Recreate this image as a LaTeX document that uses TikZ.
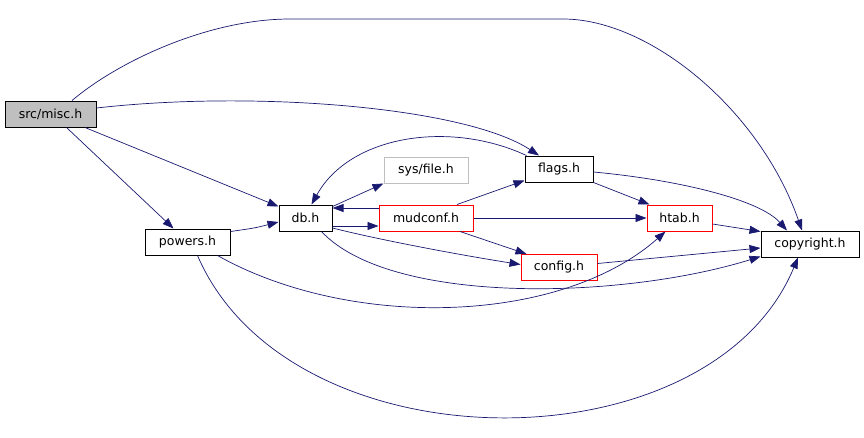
\documentclass[tikz,border=0pt]{standalone}
\usepackage{fontspec}
\setsansfont{DejaVu Sans}
\usepackage{xcolor}
\usepackage{tikz}
\usetikzlibrary{arrows.meta,positioning}
\definecolor{edgeblue}{HTML}{191970}
\definecolor{nodegray}{HTML}{BFBFBF}
\tikzset{hdr/.style={draw,line width=1pt,minimum height=26pt,inner sep=0pt,font=\sffamily\fontsize{12.5}{14}\selectfont},
  nodoc/.style={hdr,draw=red},
  sysinc/.style={hdr,draw=nodegray},
  inc/.style={draw=edgeblue,line width=0.7pt,-{Triangle[length=11pt,width=8pt]}}}
\begin{document}
\begin{tikzpicture}[x=1pt,y=-1pt]
\useasboundingbox (0,0) rectangle (864,437);
\node[hdr,fill=nodegray,minimum width=91pt] (misc) at (50.5,114) {src/misc.h};
\node[hdr,minimum width=53pt] (db) at (305.5,218) {db.h};
\node[hdr,minimum width=85pt] (powers) at (187.5,242) {powers.h};
\node[sysinc,minimum width=84pt] (sysfile) at (426,170) {sys/file.h};
\node[nodoc,minimum width=94pt] (mudconf) at (426,218) {mudconf.h};
\node[hdr,minimum width=68pt] (flags) at (559,169) {flags.h};
\node[nodoc,minimum width=65pt] (htab) at (679.5,218) {htab.h};
\node[nodoc,minimum width=76pt] (config) at (559,267.5) {config.h};
\node[hdr,minimum width=98pt] (copyright) at (810,244) {copyright.h};
% src/misc.h
\draw[inc] ([xshift=21.5pt]misc.north) .. controls (120,60) and (210,19) .. (290,19) -- (563,19)
  .. controls (650,19) and (760,110) .. ([xshift=-8pt]copyright.north);
\draw[inc] ([yshift=6pt]misc.east) .. controls (255,90) and (465,107) .. ([xshift=-20pt]flags.north);
\draw[inc] ([xshift=34.5pt]misc.south) -- ([yshift=-2pt]db.north west);
\draw[inc] ([xshift=16pt]misc.south) -- ([xshift=-14pt]powers.north);
% powers.h
\draw[inc] ([yshift=-3pt]powers.north east) .. controls (255,228) .. ([yshift=-4pt]db.west);
\draw[inc] ([xshift=30pt]powers.south) .. controls (350,330) and (560,325) .. ([xshift=-14pt]htab.south);
\draw[inc] ([xshift=10pt]powers.south) .. controls (290,470) and (710,470) .. ([xshift=-12pt]copyright.south);
% db.h
\draw[inc] ([yshift=-2pt]db.north east) -- (sysfile.south west);
\draw[inc] ([yshift=-8pt]db.east) -- ([yshift=-8pt]mudconf.west);
\draw[inc] ([yshift=-10pt]db.east) .. controls (380,240) and (460,255) .. ([yshift=3pt]config.west);
\draw[inc] ([xshift=16pt]db.south) .. controls (390,305) and (620,300) .. ([yshift=1pt]copyright.south west);
% mudconf.h
\draw[inc] ([yshift=10pt]mudconf.west) -- ([yshift=10pt]db.east);
\draw[inc] ([xshift=31pt]mudconf.north) -- ([yshift=2pt]flags.south west);
\draw[inc] (mudconf.east) -- (htab.west);
\draw[inc] ([xshift=34pt]mudconf.south) -- ([xshift=6pt]config.north west);
% flags.h
\draw[inc] ([xshift=2pt]flags.north west) .. controls (450,120) and (350,135) .. ([xshift=6pt]db.north);
\draw[inc] (flags.south east) -- ([xshift=3pt]htab.north west);
\draw[inc] ([yshift=-3pt]flags.east) .. controls (680,180) and (760,200) .. ([xshift=-23pt]copyright.north);
% htab.h, config.h
\draw[inc] ([yshift=-6pt]htab.east) -- ([yshift=-1pt]copyright.north west);
\draw[inc] ([yshift=4pt]config.east) -- ([yshift=-4pt]copyright.west);
\end{tikzpicture}
\end{document}
